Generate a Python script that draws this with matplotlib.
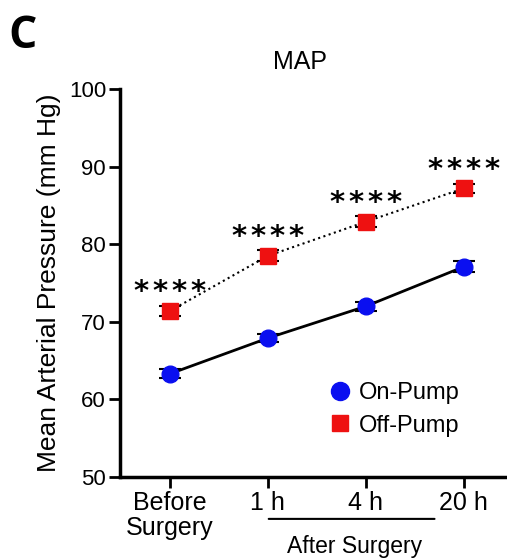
import matplotlib
matplotlib.use("Agg")
import matplotlib.pyplot as plt
from matplotlib.lines import Line2D
import numpy as np

categories = ["Before\nSurgery", "1 h", "4 h", "20 h"]
on_pump = [63.3, 67.9, 72.0, 77.1]
on_pump_err = [0.6, 0.5, 0.6, 0.7]
off_pump = [71.4, 78.5, 82.9, 87.2]
off_pump_err = [0.7, 0.7, 0.7, 0.6]
n_stars = [4, 4, 4, 4]
yticks = [50, 60, 70, 80, 90, 100]

plt.rcParams['font.family'] = ['Liberation Sans', 'DejaVu Sans']

BLUE = '#0a0ff0'
RED = '#ee1111'

fig = plt.figure(figsize=(5.07, 5.59), dpi=100)
ax = fig.add_axes([0.2367, 0.1467, 0.763, 0.694])

x = np.arange(len(categories))
ax.errorbar(x, on_pump, yerr=on_pump_err, color='black', lw=2, marker='o',
            markersize=12, markerfacecolor=BLUE, markeredgecolor=BLUE,
            ecolor='black', elinewidth=1.5, capsize=8, capthick=1.5, zorder=3)
ax.errorbar(x, off_pump, yerr=off_pump_err, color='black', lw=1.5, ls=':',
            marker='s', markersize=12, markerfacecolor=RED,
            markeredgecolor=RED, ecolor='black', elinewidth=1.5,
            capsize=8, capthick=1.5, zorder=3)

pitch = 13.7  # points between asterisks
for xi, yi, n in zip(x, off_pump, n_stars):
    for k in range(n):
        dx = (k - (n - 1) / 2) * pitch
        ax.annotate('*', xy=(xi, yi), xytext=(dx, 13.5), textcoords='offset points',
                    ha='center', va='center', fontsize=21, fontweight='bold',
                    family='DejaVu Sans')

ax.set_xlim(-0.51, 3.44)
ax.set_ylim(50, 100)
ax.set_yticks(yticks)
ax.set_xticks(x)
ax.set_xticklabels(categories, fontsize=18, linespacing=1.05)
ax.tick_params(axis='y', labelsize=16, length=8, width=2, pad=2)
ax.tick_params(axis='x', length=8, width=2, pad=2)
for side in ['top', 'right']:
    ax.spines[side].set_visible(False)
for side in ['left', 'bottom']:
    ax.spines[side].set_linewidth(2.5)

ax.set_ylabel("Mean Arterial Pressure (mm Hg)", fontsize=19, labelpad=6)
fig.text(300 / 507, 1 - 62 / 559, "MAP", fontsize=18, ha='center', va='center')

handles = [Line2D([], [], ls='none', marker='o', markersize=13, color=BLUE),
           Line2D([], [], ls='none', marker='s', markersize=12, color=RED)]
ax.legend(handles, ['On-Pump', 'Off-Pump'], loc='upper left',
          bbox_to_anchor=(0.545, 0.245), bbox_transform=ax.transAxes,
          frameon=False, fontsize=17, handlelength=0.8, handletextpad=0.4,
          labelspacing=0.45, borderpad=0, borderaxespad=0)

# After Surgery bracket
ax.annotate('', xy=(0.98, -0.108), xytext=(2.73, -0.108),
            xycoords=('data', 'axes fraction'),
            textcoords=('data', 'axes fraction'),
            arrowprops=dict(arrowstyle='-', lw=1.5, color='black'))
ax.text(1.88, -0.178, "After Surgery", transform=ax.get_xaxis_transform(),
        ha='center', va='center', fontsize=16.5)

fig.text(0.016, 0.975, "C", fontsize=32, fontweight='bold', va='top', ha='left',
         family=['Open Sans', 'DejaVu Sans'])

fig.savefig("out.png", dpi=100)
